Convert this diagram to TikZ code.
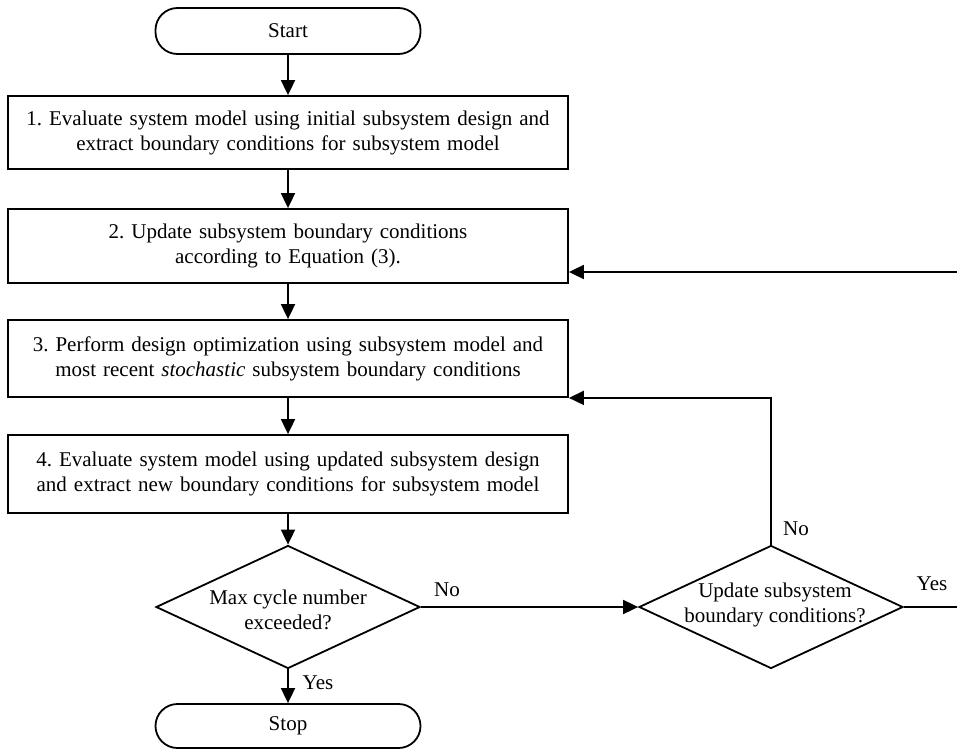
\documentclass[tikz,border=0pt]{standalone}
\usepackage{fontspec}
\setmainfont{Liberation Serif}
\usetikzlibrary{shapes.geometric,arrows.meta,calc}

\begin{document}
\frenchspacing
\begin{tikzpicture}[x=1pt,y=-1pt,
  every node/.style={font=\fontsize{21}{25}\selectfont},
  flow/.style={draw=black, line width=1.8pt, -{Triangle[length=15pt,width=14pt]}},
  stepbox/.style={draw, line width=1.8pt, rectangle, minimum width=560pt,
    inner sep=0pt, text width=540pt, align=center},
  terminal/.style={draw, line width=1.8pt, rectangle, rounded corners=22pt,
    minimum width=265pt, minimum height=46pt, inner sep=0pt},
  decision/.style={draw, line width=1.8pt, diamond, minimum width=264pt,
    minimum height=123pt, inner sep=0pt},
  txt/.style={align=center, inner sep=0pt}
]
\useasboundingbox (0,0) rectangle (957,749);

% terminals and process steps
\node[terminal] (start) at (288,31) {Start};
\node[stepbox, minimum height=73pt] (b1) at (288,132.5)
  {1. Evaluate system model using initial subsystem design and\\
   extract boundary conditions for subsystem model};
\node[stepbox, minimum height=74pt] (b2) at (288,246)
  {2. Update subsystem boundary conditions\\
   according to Equation (3).};
\node[stepbox, minimum height=77pt] (b3) at (288,358.5)
  {3. Perform design optimization using subsystem model and\\
   most recent \textit{stochastic} subsystem boundary conditions};
\node[stepbox, minimum height=78pt] (b4) at (288,474)
  {4. Evaluate system model using updated subsystem design\\
   and extract new boundary conditions for subsystem model\\[8pt]};

% decisions
\node[decision] (d1) at (288,607) {};
\node[txt] (d1txt) at (288,610) {Max cycle number\\exceeded?};
\node[decision] (d2) at (771,607) {};
\node[txt] (d2txt) at (775,605) {Update subsystem\\boundary conditions?};

\node[terminal, minimum height=44pt] (stop) at (288,726) {Stop};

% main sequence
\draw[flow] (start) -- (b1);
\draw[flow] (b1) -- (b2);
\draw[flow] (b2) -- (b3);
\draw[flow] (b3) -- (b4);
\draw[flow] (b4) -- (d1);
\draw[flow] (d1) -- (stop);
\draw[flow] (d1.east) -- (d2.west);

% feedback loops
\draw[flow] (d2.north) |- (b3.south east);
\coordinate (yesturn) at (958,272);
\draw[flow] (d2.east) -| (yesturn) -- (b2.east |- yesturn);

% branch labels
\node (lnoA) at (447,590) {No};
\node (lyesA) at (318,683) {Yes};
\node (lnoB) at (796,529) {No};
\node (lyesB) at (932,584) {Yes};
\end{tikzpicture}
\end{document}
